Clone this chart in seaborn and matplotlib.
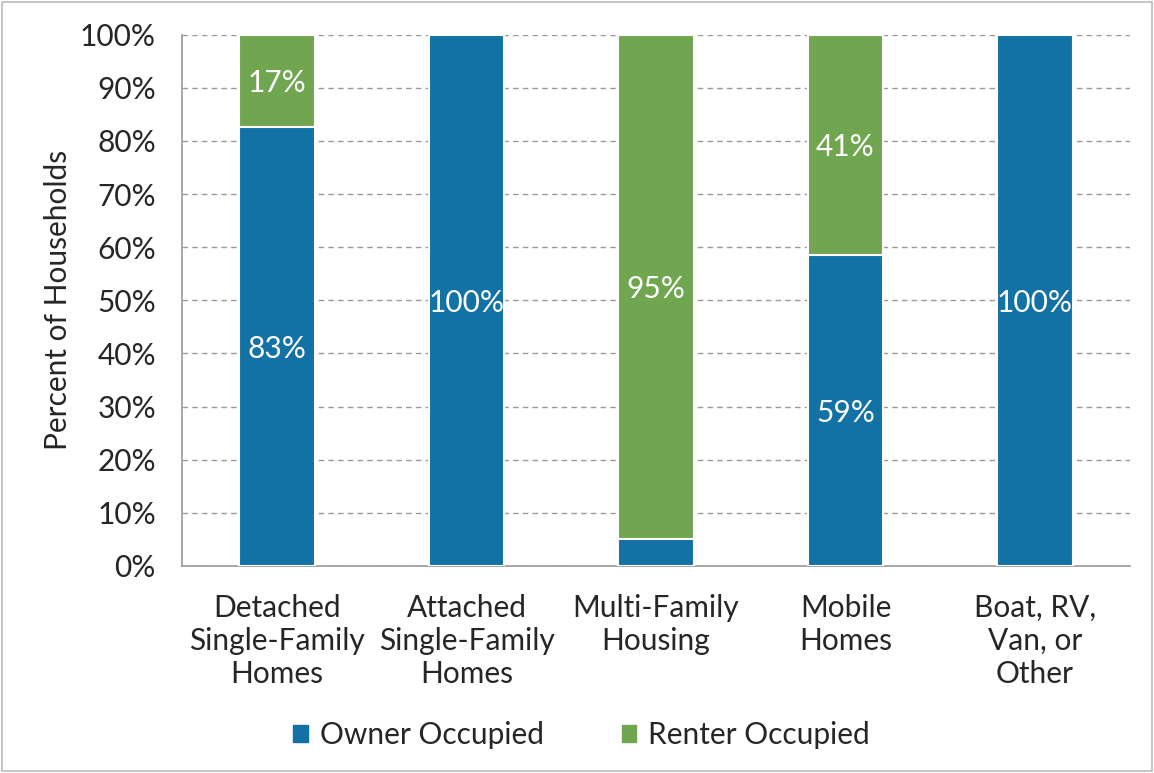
import pandas as pd
import matplotlib.pyplot as plt
import seaborn as sns
from matplotlib.patches import Patch, Rectangle

categories = ["Detached\nSingle-Family\nHomes", "Attached\nSingle-Family\nHomes",
              "Multi-Family\nHousing", "Mobile\nHomes", "Boat, RV,\nVan, or\nOther"]
owner = [82.7, 100.0, 5.1, 58.6, 100.0]
renter = [17.3, 0.0, 94.9, 41.4, 0.0]
owner_labels = ["83%", "100%", "", "59%", "100%"]
renter_labels = ["17%", "", "95%", "41%", ""]

BLUE = "#1272A6"
GREEN = "#71A651"
FS = 21.5

df = pd.DataFrame({"category": categories, "owner": owner, "renter": renter})
df["total"] = df["owner"] + df["renter"]

sns.set_style("white")
plt.rcParams["font.family"] = ["Lato", "DejaVu Sans"]

fig = plt.figure(figsize=(11.54, 7.73), dpi=100)
ax = fig.add_axes([0.158, 0.268, 0.821, 0.687])

# stacked: draw totals in renter colour, owner share on top
sns.barplot(data=df, x="category", y="total", color=GREEN, width=0.4, saturation=1,
            edgecolor="white", linewidth=1.5, ax=ax, zorder=3)
sns.barplot(data=df, x="category", y="owner", color=BLUE, width=0.4, saturation=1,
            edgecolor="white", linewidth=1.5, ax=ax, zorder=4)

for i in range(len(categories)):
    if owner_labels[i]:
        ax.text(i, owner[i] / 2, owner_labels[i], ha="center", va="center_baseline",
                color="white", fontsize=FS, zorder=5)
    if renter_labels[i]:
        ax.text(i, owner[i] + renter[i] / 2, renter_labels[i], ha="center",
                va="center_baseline", color="white", fontsize=FS, zorder=5)

ax.set_ylim(0, 100)
ax.set_xlim(-0.5, len(categories) - 0.5)
ax.set_yticks(range(0, 101, 10))
ax.set_yticklabels([f"{v}%" for v in range(0, 101, 10)], fontsize=FS)
ax.set_xticks(range(len(categories)))
ax.set_xticklabels(categories, fontsize=FS, linespacing=1.22)
ax.set_xticks([i - 0.5 for i in range(len(categories) + 1)], minor=True)
ax.tick_params(axis="x", which="major", length=0, pad=20)
ax.tick_params(axis="x", which="minor", length=8, color="#999999", width=1.2)
ax.tick_params(axis="y", length=8, color="#999999", width=1.2, pad=11)
ax.set_xlabel("")
ax.set_ylabel("Percent of Households", fontsize=FS, labelpad=6)

ax.yaxis.grid(True, linestyle=(0, (4, 3)), color="#999999", linewidth=1, zorder=0)
ax.set_axisbelow(True)
for side in ["top", "right"]:
    ax.spines[side].set_visible(False)
for side in ["left", "bottom"]:
    ax.spines[side].set_color("#999999")
    ax.spines[side].set_linewidth(1.2)

handles = [Patch(color=BLUE, label="Owner Occupied"),
           Patch(color=GREEN, label="Renter Occupied")]
fig.legend(handles=handles, loc="center", bbox_to_anchor=(0.504, 0.049), ncol=2,
           frameon=False, fontsize=FS, handlelength=0.5, handleheight=0.5,
           handletextpad=0.4, columnspacing=2.6)

fig.patches.append(Rectangle((0.002, 0.002), 0.996, 0.996, transform=fig.transFigure,
                             fill=False, edgecolor="#BBBBBB", linewidth=1.2))

fig.savefig("out.png", dpi=100)
